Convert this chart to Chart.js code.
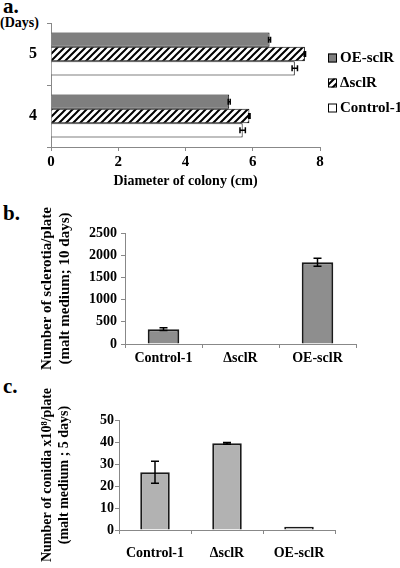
<!DOCTYPE html>
<html>
<head>
<meta charset="utf-8">
<script src="https://cdn.jsdelivr.net/npm/chart.js@4.4.0/dist/chart.umd.min.js"></script>
<style>
body{margin:0;width:400px;height:568px;position:relative;background:#fff;font-family:"Liberation Serif",serif;font-weight:bold;overflow:hidden;color:#000}
canvas{position:absolute;left:0}
.lbl{position:absolute;left:3px;font-size:21px;line-height:1}
</style>
</head>
<body>
<div class="lbl" style="top:-4px">a.</div>
<div style="position:absolute;left:0;top:15px;font-size:14px">(Days)</div>
<div class="lbl" style="top:203px">b.</div>
<div class="lbl" style="top:376px">c.</div>
<canvas id="chartA" width="400" height="195" style="top:0"></canvas>
<canvas id="chartB" width="400" height="180" style="top:190px"></canvas>
<canvas id="chartC" width="400" height="198" style="top:370px"></canvas>
<script>
// panel a: colony diameter (cm) by day
let days = ['5', '4'];
let strainsA = ['OE-sclR', '\u0394sclR', 'Control-1'];
let diamOE = [6.5, 5.3];
let diamDelta = [7.55, 5.9];
let diamCtrl = [7.25, 5.7];
let errOE = [0.03, 0.03];
let errDelta = [0.02, 0.02];
let errCtrl = [0.08, 0.08];
let diamTicks = [0, 2, 4, 6, 8];

// panel b: sclerotia per plate
let strains = ['Control-1', '\u0394sclR', 'OE-sclR'];
let sclerotia = [335, 0, 1840];
let errSclerotia = [30, 0, 90];

// panel c: conidia x10^8 per plate
let conidia = [26.3, 39.4, 1.5];
let errConidia = [5, 0.4, 0];

Chart.defaults.font.family = '"Liberation Serif", serif';
Chart.defaults.font.weight = 'bold';
Chart.defaults.color = '#000';

function hatch() {
  const c = document.createElement('canvas');
  c.width = 7; c.height = 7;
  const g = c.getContext('2d');
  g.fillStyle = '#fff';
  g.fillRect(0, 0, 7, 7);
  g.strokeStyle = '#000';
  g.lineWidth = 2;
  g.beginPath();
  g.moveTo(0, 7); g.lineTo(7, 0);
  g.moveTo(-1, 1); g.lineTo(1, -1);
  g.moveTo(6, 8); g.lineTo(8, 6);
  g.stroke();
  return g.createPattern(c, 'repeat');
}

const errorBars = {
  id: 'errorBars',
  afterDatasetsDraw(chart) {
    const ctx = chart.ctx;
    const horiz = chart.options.indexAxis === 'y';
    chart.data.datasets.forEach((ds, i) => {
      if (!ds.errors) return;
      const meta = chart.getDatasetMeta(i);
      const vs = horiz ? chart.scales.x : chart.scales.y;
      const cap = ds.errorCap || 4;
      meta.data.forEach((bar, j) => {
        const e = ds.errors[j];
        if (!e) return;
        const lo = vs.getPixelForValue(ds.data[j] - e);
        const hi = vs.getPixelForValue(ds.data[j] + e);
        ctx.save();
        ctx.strokeStyle = '#000';
        ctx.lineWidth = 1.5;
        ctx.beginPath();
        if (horiz) {
          ctx.moveTo(lo, bar.y); ctx.lineTo(hi, bar.y);
          ctx.moveTo(lo, bar.y - cap); ctx.lineTo(lo, bar.y + cap);
          ctx.moveTo(hi, bar.y - cap); ctx.lineTo(hi, bar.y + cap);
        } else {
          ctx.moveTo(bar.x, lo); ctx.lineTo(bar.x, hi);
          ctx.moveTo(bar.x - cap, lo); ctx.lineTo(bar.x + cap, lo);
          ctx.moveTo(bar.x - cap, hi); ctx.lineTo(bar.x + cap, hi);
        }
        ctx.stroke();
        ctx.restore();
      });
    });
  }
};

// legend drawn to the right of panel a
const sideLegend = {
  id: 'sideLegend',
  afterDraw(chart) {
    const {ctx, chartArea} = chart;
    const mid = (chartArea.top + chartArea.bottom) / 2 - 2;
    ctx.save();
    ctx.font = 'bold 15px "Liberation Serif"';
    ctx.textBaseline = 'middle';
    chart.data.datasets.forEach((ds, i) => {
      const y = mid + (i - 1) * 25;
      const x = chartArea.right + 8;
      ctx.fillStyle = ds.backgroundColor;
      ctx.fillRect(x, y - 4.5, 9, 9);
      ctx.strokeStyle = '#000';
      ctx.lineWidth = 1;
      ctx.strokeRect(x + 0.5, y - 4, 8, 8);
      ctx.fillStyle = '#000';
      ctx.fillText(ds.label, x + 12, y);
    });
    ctx.restore();
  }
};

const axisGray = '#888';
const plain = v => String(v);

new Chart(document.getElementById('chartA'), {
  type: 'bar',
  data: {
    labels: days,
    datasets: [
      {label: strainsA[0], data: diamOE, errors: errOE, errorCap: 3, backgroundColor: '#7f7f7f'},
      {label: strainsA[1], data: diamDelta, errors: errDelta, errorCap: 3, backgroundColor: hatch()},
      {label: strainsA[2], data: diamCtrl, errors: errCtrl, errorCap: 3, backgroundColor: '#fff'}
    ]
  },
  options: {
    indexAxis: 'y',
    responsive: false,
    animation: false,
    datasets: {bar: {borderColor: '#000', borderWidth: 1, categoryPercentage: 0.69, barPercentage: 1}},
    layout: {padding: {top: 23, right: 80, left: 0, bottom: 0}},
    plugins: {legend: {display: false}, tooltip: {enabled: false}},
    scales: {
      x: {
        min: 0, max: 8,
        afterBuildTicks(s) { s.ticks = diamTicks.map(v => ({value: v})); },
        ticks: {font: {size: 15}, padding: 2, callback: plain},
        grid: {drawOnChartArea: false, color: axisGray, tickLength: 4},
        border: {color: axisGray},
        title: {display: true, text: 'Diameter of colony (cm)', font: {size: 14}, padding: {top: 0, bottom: 5}},
        afterFit(s) { s.height = 48; }
      },
      y: {
        ticks: {font: {size: 16}, padding: 10},
        grid: {drawOnChartArea: false, color: axisGray, tickLength: 4},
        border: {color: axisGray},
        afterFit(s) { s.width = 51; }
      }
    }
  },
  plugins: [errorBars, sideLegend]
});

new Chart(document.getElementById('chartB'), {
  type: 'bar',
  data: {
    labels: strains,
    datasets: [{data: sclerotia, errors: errSclerotia, errorCap: 4, backgroundColor: '#8e8e8e'}]
  },
  options: {
    responsive: false,
    animation: false,
    datasets: {bar: {borderColor: '#1a1a1a', borderWidth: 2, categoryPercentage: 0.41, barPercentage: 1}},
    layout: {padding: {top: 43, right: 44, left: 0, bottom: 0}},
    plugins: {legend: {display: false}, tooltip: {enabled: false}},
    scales: {
      x: {
        ticks: {font: {size: 14}, padding: 2},
        grid: {drawOnChartArea: false, color: axisGray, tickLength: 4},
        border: {color: axisGray},
        afterFit(s) { s.height = 26; }
      },
      y: {
        min: 0, max: 2500,
        ticks: {stepSize: 500, font: {size: 14}, padding: 4, callback: plain},
        grid: {drawOnChartArea: false, color: axisGray, tickLength: 4},
        border: {color: axisGray},
        title: {display: true, text: ['Number of sclerotia/plate', '(malt medium; 10 days)'], font: {size: 15}, padding: {top: 38, bottom: 0}},
        afterFit(s) { s.width = 125; }
      }
    }
  },
  plugins: [errorBars]
});

new Chart(document.getElementById('chartC'), {
  type: 'bar',
  data: {
    labels: strains,
    datasets: [{data: conidia, errors: errConidia, errorCap: 4, backgroundColor: '#b2b2b2'}]
  },
  options: {
    responsive: false,
    animation: false,
    datasets: {bar: {borderColor: '#1a1a1a', borderWidth: 2, categoryPercentage: 0.41, barPercentage: 1}},
    layout: {padding: {top: 50, right: 65, left: 0, bottom: 0}},
    plugins: {legend: {display: false}, tooltip: {enabled: false}},
    scales: {
      x: {
        ticks: {font: {size: 14}, padding: 11},
        grid: {drawOnChartArea: false, color: axisGray, tickLength: 4},
        border: {color: axisGray},
        afterFit(s) { s.height = 38; }
      },
      y: {
        min: 0, max: 50,
        ticks: {stepSize: 10, font: {size: 14}, padding: 1, callback: plain},
        grid: {drawOnChartArea: false, color: axisGray, tickLength: 4},
        border: {color: axisGray},
        title: {display: true, text: ['Number of conidia x10\u2078/plate', '(malt medium ; 5 days)'], font: {size: 14}, padding: {top: 39, bottom: 0}},
        afterFit(s) { s.width = 119; }
      }
    }
  },
  plugins: [errorBars]
});
</script>
</body>
</html>
